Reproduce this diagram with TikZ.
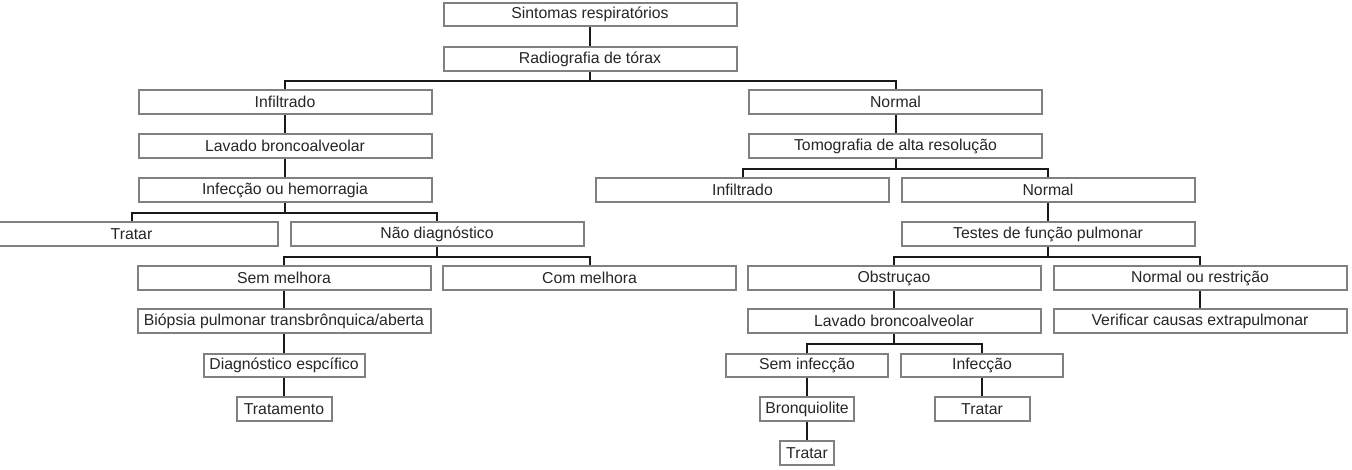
\documentclass[tikz,border=0pt]{standalone}
\usepackage{fontspec}
\setmainfont{Liberation Sans}
\begin{document}
\begin{tikzpicture}[x=0.5pt,y=-0.5pt,
  box/.style={draw=black!50,line width=1pt,fill=white,text=black!85,
    minimum width=146.5pt,minimum height=11.75pt,inner sep=0pt,
    font=\fontsize{7.9}{9}\selectfont},
  conn/.style={black!90,line width=1pt}]
\useasboundingbox (0,0) rectangle (1352,470);

% Top
\node[box] (sint) at (590,14.5) {Sintomas respiratórios};
\node[box] (radio) at (590,59) {Radiografia de tórax};

% Left branch
\node[box] (infl) at (285,102) {Infiltrado};
\node[box] (lavL) at (285,146) {Lavado broncoalveolar};
\node[box] (infec) at (285,190) {Infecção ou hemorragia};
\node[box] (tratL) at (131.5,234) {Tratar};
\node[box] (naodiag) at (437,234) {Não diagnóstico};
\node[box] (semmel) at (284,278) {Sem melhora};
\node[box] (commel) at (589.5,278) {Com melhora};
\node[box] (biop) at (284,321) {Biópsia pulmonar transbrônquica/aberta};
\node[box,minimum width=80.5pt] (diag) at (284,365.5) {Diagnóstico espcífico};
\node[box,minimum width=47.5pt] (tratam) at (284,409) {Tratamento};

% Right branch
\node[box] (norm) at (895.5,102) {Normal};
\node[box] (tomo) at (895.5,146) {Tomografia de alta resolução};
\node[box] (inflR) at (742.5,190) {Infiltrado};
\node[box] (normR) at (1048,190) {Normal};
\node[box] (testes) at (1048,234) {Testes de função pulmonar};
\node[box] (obst) at (894,278) {Obstruçao};
\node[box] (normres) at (1200,278) {Normal ou restrição};
\node[box] (lavR) at (894,321) {Lavado broncoalveolar};
\node[box] (verif) at (1200,321) {Verificar causas extrapulmonar};
\node[box,minimum width=81pt] (seminf) at (807,365.5) {Sem infecção};
\node[box,minimum width=81pt] (inf) at (982,365.5) {Infecção};
\node[box,minimum width=47pt] (bronq) at (807,409) {Bronquiolite};
\node[box,minimum width=47.5pt] (tratI) at (982,409) {Tratar};
\node[box,minimum width=27pt] (tratB) at (807,453) {Tratar};

% Connectors
\draw[conn] (sint) -- (radio);
\draw[conn] (radio.south) -- ++(0,9.5) -| (infl.north);
\draw[conn] (radio.south) -- ++(0,9.5) -| (norm.north);
\draw[conn] (infl) -- (lavL);
\draw[conn] (lavL) -- (infec);
\draw[conn] (infec.south) -- ++(0,10) -| (tratL.north);
\draw[conn] (infec.south) -- ++(0,10) -| (naodiag.north);
\draw[conn] (naodiag.south) -- ++(0,10) -| (semmel.north);
\draw[conn] (naodiag.south) -- ++(0,10) -| (commel.north);
\draw[conn] (semmel) -- (biop);
\draw[conn] (biop) -- (diag);
\draw[conn] (diag) -- (tratam);
\draw[conn] (norm) -- (tomo);
\draw[conn] (tomo.south) -- ++(0,10) -| (inflR.north);
\draw[conn] (tomo.south) -- ++(0,10) -| (normR.north);
\draw[conn] (normR) -- (testes);
\draw[conn] (testes.south) -- ++(0,10) -| (obst.north);
\draw[conn] (testes.south) -- ++(0,10) -| (normres.north);
\draw[conn] (obst) -- (lavR);
\draw[conn] (normres) -- (verif);
\draw[conn] (lavR.south) -- ++(0,10) -| (seminf.north);
\draw[conn] (lavR.south) -- ++(0,10) -| (inf.north);
\draw[conn] (seminf) -- (bronq);
\draw[conn] (bronq) -- (tratB);
\draw[conn] (inf) -- (tratI);
\end{tikzpicture}
\end{document}
